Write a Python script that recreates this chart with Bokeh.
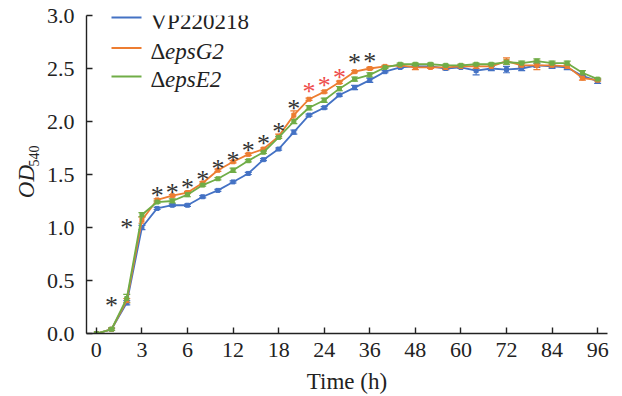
import math
from bokeh.plotting import figure
from bokeh.layouts import row
from bokeh.models import (FixedTicker, Label, Whisker, ColumnDataSource, TeeHead,
                          Range1d, NumeralTickFormatter)
from bokeh.core.properties import value
from bokeh.embed import file_html
from bokeh.resources import INLINE

# ---------------- data ----------------
times = [0, 1, 2, 3, 4, 5, 6, 8, 10, 12, 14, 16, 18, 20, 22, 24, 28, 32, 36,
         40, 44, 48, 52, 56, 60, 64, 68, 72, 76, 80, 84, 88, 92, 96]

vp220218 = [0.00, 0.04, 0.29, 1.00, 1.18, 1.21, 1.21, 1.29, 1.35, 1.43, 1.51, 1.64,
            1.74, 1.90, 2.06, 2.13, 2.25, 2.32, 2.39, 2.47, 2.51, 2.52, 2.52, 2.50,
            2.51, 2.48, 2.50, 2.49, 2.50, 2.53, 2.52, 2.51, 2.43, 2.38]
eps_g2 = [0.00, 0.04, 0.31, 1.07, 1.26, 1.30, 1.33, 1.42, 1.54, 1.62, 1.69, 1.74,
          1.86, 2.06, 2.21, 2.28, 2.37, 2.47, 2.50, 2.52, 2.53, 2.51, 2.51, 2.51,
          2.52, 2.52, 2.52, 2.57, 2.53, 2.53, 2.53, 2.52, 2.41, 2.39]
eps_e2 = [0.00, 0.04, 0.33, 1.12, 1.24, 1.25, 1.31, 1.40, 1.46, 1.54, 1.63, 1.71,
          1.85, 2.00, 2.13, 2.20, 2.31, 2.40, 2.44, 2.51, 2.54, 2.54, 2.54, 2.53,
          2.53, 2.54, 2.54, 2.56, 2.55, 2.57, 2.55, 2.55, 2.46, 2.40]

vp_err = [0.00, 0.01, 0.02, 0.02, 0.01, 0.01, 0.01, 0.01, 0.01, 0.01, 0.01, 0.01,
          0.01, 0.02, 0.01, 0.01, 0.01, 0.02, 0.02, 0.01, 0.01, 0.01, 0.02, 0.01,
          0.01, 0.04, 0.02, 0.03, 0.02, 0.02, 0.02, 0.02, 0.01, 0.02]
g2_err = [0.00, 0.01, 0.02, 0.03, 0.01, 0.01, 0.01, 0.01, 0.01, 0.01, 0.01, 0.01,
          0.02, 0.04, 0.01, 0.01, 0.01, 0.01, 0.01, 0.01, 0.01, 0.02, 0.01, 0.02,
          0.02, 0.02, 0.02, 0.03, 0.02, 0.04, 0.02, 0.02, 0.02, 0.01]
e2_err = [0.00, 0.01, 0.04, 0.02, 0.01, 0.02, 0.02, 0.01, 0.01, 0.02, 0.01, 0.01,
          0.01, 0.02, 0.02, 0.02, 0.02, 0.02, 0.02, 0.01, 0.01, 0.01, 0.01, 0.01,
          0.01, 0.01, 0.01, 0.02, 0.02, 0.02, 0.02, 0.02, 0.02, 0.01]

series_names = ["VP220218", "epsG2", "epsE2"]
series_colors = ["#4472C4", "#ED7D31", "#70AD47"]

tick_labels = ["0", "3", "6", "12", "18", "24", "36", "48", "60", "72", "84", "96"]
y_ticks = [0.0, 0.5, 1.0, 1.5, 2.0, 2.5, 3.0]

star_times = [1, 2, 4, 5, 6, 8, 10, 12, 14, 16, 18, 20, 22, 24, 28, 32, 36]
star_heights = [0.32, 1.06, 1.36, 1.39, 1.43, 1.51, 1.61, 1.69, 1.78, 1.85, 1.96,
                2.18, 2.34, 2.40, 2.47, 2.61, 2.62]
star_colors = ["#333333"] * 12 + ["#EE4B4B"] * 3 + ["#333333"] * 2

# ---------------- layout helpers ----------------
XS, XE = -0.65, 33.65
FRAME_W, FRAME_H = 521, 318
PAGE_LEFT, PAGE_TOP = 86, 15          # frame position on the page
SIDE_W = 40                           # width of the strip holding the y title
BOTTOM = 62
TOTAL_H = PAGE_TOP + FRAME_H + BOTTOM


def dx(px):
    return XS + (px - PAGE_LEFT) * (XE - XS) / FRAME_W


def dy(py):
    return 3.0 * (PAGE_TOP + FRAME_H - py) / FRAME_H


FONT = "Liberation Serif"
TXT = "#222222"

p = figure(frame_width=FRAME_W, frame_height=FRAME_H,
           output_backend="svg", toolbar_location=None,
           x_range=Range1d(XS, XE), y_range=Range1d(0, 3.0),
           min_border_left=PAGE_LEFT - SIDE_W, min_border_right=12,
           min_border_top=PAGE_TOP, min_border_bottom=BOTTOM)
p.outline_line_color = None
p.grid.grid_line_color = None
p.background_fill_color = "white"

idx = list(range(len(times)))
for vals, errs, col in zip([vp220218, eps_g2, eps_e2], [vp_err, g2_err, e2_err],
                           series_colors):
    src = ColumnDataSource(dict(x=idx, y=vals,
                                upper=[v + e for v, e in zip(vals, errs)],
                                lower=[v - e for v, e in zip(vals, errs)]))
    p.line("x", "y", source=src, line_color=col, line_width=1.8)
    p.scatter("x", "y", source=src, marker="square", size=4, color=col)
    w = Whisker(base="x", upper="upper", lower="lower", source=src,
                line_color=col, line_width=1.2,
                upper_head=TeeHead(size=7, line_color=col, line_width=1.2),
                lower_head=TeeHead(size=7, line_color=col, line_width=1.2))
    p.add_layout(w)

# significance stars
star_x = [times.index(t) for t in star_times]
p.text(x=star_x, y=star_heights, text=["*"] * len(star_x), text_color=star_colors,
       text_font=value(FONT), text_font_size="26px", text_align="center",
       text_baseline="middle", y_offset=6)

# axes
xa = p.xaxis[0]
xa.ticker = FixedTicker(ticks=[times.index(int(t)) for t in tick_labels])
xa.major_label_overrides = {times.index(int(t)): t for t in tick_labels}
ya = p.yaxis[0]
ya.ticker = FixedTicker(ticks=y_ticks)
ya.formatter = NumeralTickFormatter(format="0.0")
for ax in (xa, ya):
    ax.minor_tick_line_color = None
    ax.major_tick_in = 6
    ax.major_tick_out = 0
    ax.axis_line_color = TXT
    ax.major_tick_line_color = TXT
    ax.axis_line_width = 1.4
    ax.major_tick_line_width = 1.4
    ax.major_label_text_font = FONT
    ax.major_label_text_font_size = "22px"
    ax.major_label_text_color = TXT
    ax.axis_label_text_font = FONT
    ax.axis_label_text_font_size = "23px"
    ax.axis_label_text_font_style = "normal"
    ax.axis_label_text_color = TXT
xa.major_label_standoff = 9
xa.axis_label = "Time (h)"
xa.axis_label_standoff = 9
ya.major_label_standoff = 12

# legend (drawn by hand so that the delta stays upright and the gene name is italic)
LEG_SHIFT = 6
leg_line_y = [17, 47.5, 76]
leg_base_y = [26.7, 56.5, 85]
for i, (name, col) in enumerate(zip(series_names, series_colors)):
    p.segment(x0=[dx(111)], x1=[dx(141)], y0=[dy(leg_line_y[i])], y1=[dy(leg_line_y[i])],
              line_color=col, line_width=1.8)
    by = dy(leg_base_y[i] - LEG_SHIFT)
    if i == 0:
        p.add_layout(Label(x=dx(150), y=by, text=name, text_font=FONT,
                           text_font_size="23px", text_color=TXT,
                           text_baseline="alphabetic"))
    else:
        p.add_layout(Label(x=dx(150), y=by, text="\u0394", text_font=FONT,
                           text_font_size="23px", text_color=TXT,
                           text_baseline="alphabetic"))
        p.add_layout(Label(x=dx(164.5), y=by, text=name, text_font=FONT,
                           text_font_style="italic", text_font_size="23px",
                           text_color=TXT, text_baseline="alphabetic"))

# side strip with the y title: OD with subscript 540 (page coordinates)
side = figure(width=SIDE_W, height=TOTAL_H, x_range=Range1d(0, SIDE_W),
              y_range=Range1d(0, TOTAL_H), x_axis_type=None, y_axis_type=None,
              min_border=0, toolbar_location=None, output_backend="svg",
              title=None)
side.outline_line_color = None
side.grid.grid_line_color = None
side.text(x=[25.8], y=[TOTAL_H - 207], text=["OD"], angle=math.pi / 2,
          text_font=value(FONT), text_font_style="italic", text_font_size="23px",
          text_color=TXT, text_align="center", text_baseline="middle")
side.text(x=[33], y=[TOTAL_H - 175], text=["540"], angle=math.pi / 2,
          text_font=value(FONT), text_font_size="14px",
          text_color=TXT, text_align="center", text_baseline="middle")

layout = row(side, p)
open("out.html", "w").write(file_html(layout, INLINE))
